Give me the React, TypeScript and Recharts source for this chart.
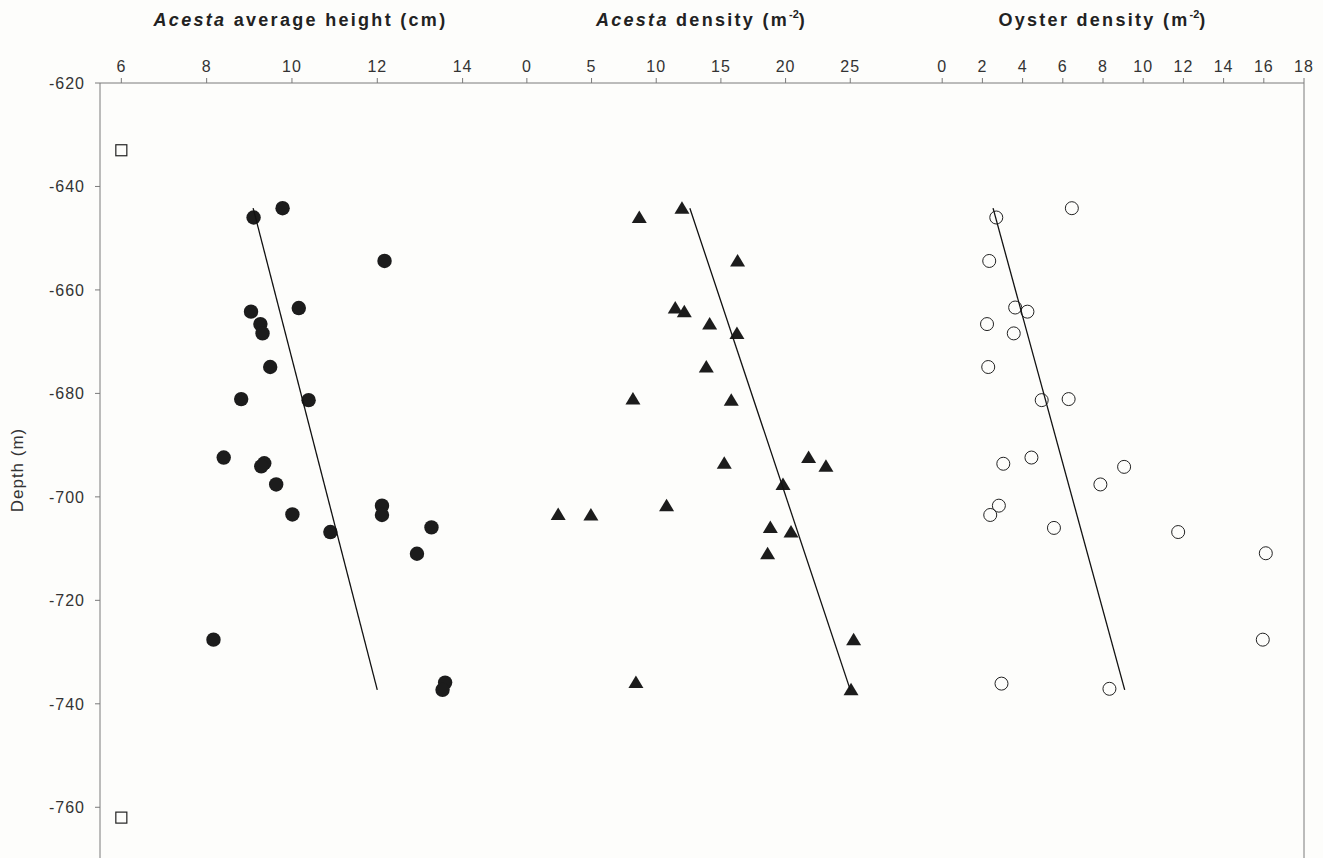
import React from 'react';
import { ScatterChart, Scatter, XAxis, YAxis, ReferenceLine } from 'recharts';

// depth of each sampled station (m)
const depths = [
  -644.2, -646.0, -654.4, -663.5, -664.2, -666.6, -668.4, -674.9, -681.1, -681.3, -692.4, -693.5,
  -694.1, -697.6, -701.7, -703.4, -703.5, -705.9, -706.8, -711.0, -727.6, -735.9, -737.3,
];
const acestaHeight = [
  9.78, 9.1, 12.17, 10.16, 9.04, 9.26, 9.31, 9.49, 8.81, 10.39, 8.4, 9.35,
  9.28, 9.63, 12.11, 10.01, 12.11, 13.27, 10.9, 12.93, 8.16, 13.59, 13.53,
];
const acestaDensity = [
  11.99, 8.69, 16.29, 11.47, 12.17, 14.13, 16.24, 13.87, 8.2, 15.8, 21.78, 15.26,
  23.12, 19.8, 10.8, 2.42, 4.95, 18.82, 20.42, 18.61, 25.26, 8.43, 25.06,
];
const oysterDepths = [
  -644.2, -646.0, -654.4, -663.4, -664.2, -666.6, -668.4, -674.9, -681.3, -681.1, -692.4,
  -693.6, -694.2, -697.6, -701.7, -703.5, -706.0, -706.8, -710.9, -727.6, -736.1, -737.1,
];
const oysterDensity = [
  6.45, 2.69, 2.34, 3.63, 4.24, 2.23, 3.56, 2.29, 4.95, 6.29, 4.44,
  3.04, 9.05, 7.87, 2.82, 2.39, 5.56, 11.74, 16.1, 15.95, 2.95, 8.32,
];

// depth range markers (open squares)
const rangeDepths = [-633, -762];
const rangeX = [6, 6];

// regression line end points
const trendDepths = [-644.2, -737.3];
const heightTrend = [9.09, 12.0];
const acestaTrend = [12.6, 25.0];
const oysterTrend = [2.53, 9.08];

const depthTicks = [-620, -640, -660, -680, -700, -720, -740, -760];
const heightTicks = [6, 8, 10, 12, 14];
const acestaTicks = [0, 5, 10, 15, 20, 25];
const oysterTicks = [0, 2, 4, 6, 8, 10, 12, 14, 16, 18];

const pts = (xs: number[], ys: number[]) => xs.map((x, i) => ({ x, y: ys[i] }));

const AXIS = '#7a7a7a';
const INK = '#1c1c1c';
const FONT = '"Liberation Sans", Arial, sans-serif';
const H = 860;
const TOP = 83;
const BOTTOM = 1;

const dot = (p: any) => <circle cx={p.cx} cy={p.cy} r={7.2} fill={INK} />;
const tri = (p: any) => (
  <polygon
    points={`${p.cx},${p.cy - 7} ${p.cx - 7.5},${p.cy + 5.5} ${p.cx + 7.5},${p.cy + 5.5}`}
    fill={INK}
  />
);
const ring = (p: any) => <circle cx={p.cx} cy={p.cy} r={6.5} fill="none" stroke="#222" strokeWidth={1} />;
const square = (p: any) => (
  <rect x={p.cx - 5.5} y={p.cy - 5.5} width={11} height={11} fill="none" stroke="#222" strokeWidth={1.2} />
);
const none = () => <g />;

const textProps = { fill: '#333', fontSize: 16, fontFamily: FONT, letterSpacing: 1 };

const topTick = (p: any) => (
  <text x={p.x} y={p.y} textAnchor="middle" {...textProps}>
    {p.payload.value}
  </text>
);
const leftTick = (p: any) => (
  <text x={p.x} y={p.y} dy="0.36em" textAnchor="end" {...textProps}>
    {p.payload.value}
  </text>
);

interface PanelProps {
  left: number;
  width: number;
  margin: { top: number; right: number; bottom: number; left: number };
  domain: [number, number];
  ticks: number[];
  points: { x: number; y: number }[];
  trend: { x: number; y: number }[];
  shape: (p: any) => React.ReactElement;
  first?: boolean;
  last?: boolean;
}

const Panel: React.FC<PanelProps> = ({ left, width, margin, domain, ticks, points, trend, shape, first, last }) => (
  <div style={{ position: 'absolute', left, top: 0 }}>
    <ScatterChart width={width} height={H} margin={margin}>
      <XAxis
        type="number"
        dataKey="x"
        orientation="top"
        domain={domain}
        ticks={ticks}
        allowDataOverflow
        stroke={AXIS}
        tick={topTick}
        tickSize={5}
        tickMargin={6}
        height={30}
      />
      <YAxis
        type="number"
        dataKey="y"
        domain={[-770, -620]}
        ticks={depthTicks}
        allowDataOverflow
        stroke={AXIS}
        width={first ? 60 : 0}
        tick={first ? leftTick : none}
        tickSize={first ? 5 : -5}
        tickMargin={first ? 10 : 0}
      />
      {last && <ReferenceLine x={domain[1]} stroke={AXIS} strokeWidth={1} />}
      <Scatter data={points} shape={shape} isAnimationActive={false} />
      <Scatter data={trend} line={{ stroke: '#111', strokeWidth: 1.3 }} shape={none} isAnimationActive={false} />
      {first && <Scatter data={pts(rangeX, rangeDepths)} shape={square} isAnimationActive={false} />}
    </ScatterChart>
  </div>
);

const titleStyle: React.CSSProperties = {
  position: 'absolute',
  top: 10,
  textAlign: 'center',
  fontFamily: FONT,
  fontWeight: 'bold',
  fontSize: 18,
  letterSpacing: 2.3,
  color: '#222',
  whiteSpace: 'nowrap',
};

const sup: React.CSSProperties = { fontSize: 11, verticalAlign: 'top', position: 'relative', top: -2, letterSpacing: 0 };

export default function App() {
  return (
    <div
      style={{
        position: 'absolute',
        left: 0,
        top: 0,
        width: 1323,
        height: 858,
        overflow: 'hidden',
        background: '#fdfdfb',
      }}
    >
      <Panel
        left={0}
        width={501}
        margin={{ top: TOP - 30, right: 0, bottom: BOTTOM, left: 40 }}
        domain={[5.5, 14.9]}
        ticks={heightTicks}
        points={pts(acestaHeight, depths)}
        trend={pts(heightTrend, trendDepths)}
        shape={dot}
        first
      />
      <Panel
        left={501}
        width={401}
        margin={{ top: TOP - 30, right: 0, bottom: BOTTOM, left: 0 }}
        domain={[-2, 29]}
        ticks={acestaTicks}
        points={pts(acestaDensity, depths)}
        trend={pts(acestaTrend, trendDepths)}
        shape={tri}
      />
      <Panel
        left={902}
        width={421}
        margin={{ top: TOP - 30, right: 19, bottom: BOTTOM, left: 0 }}
        domain={[-2, 18]}
        ticks={oysterTicks}
        points={pts(oysterDensity, oysterDepths)}
        trend={pts(oysterTrend, trendDepths)}
        shape={ring}
        last
      />

      <div style={{ ...titleStyle, left: 100, width: 401 }}>
        <i>Acesta</i> average height (cm)
      </div>
      <div style={{ ...titleStyle, left: 501, width: 401 }}>
        <i>Acesta</i> density (m<span style={sup}>-2</span>)
      </div>
      <div style={{ ...titleStyle, left: 902, width: 402 }}>
        Oyster density (m<span style={sup}>-2</span>)
      </div>

      <div
        style={{
          position: 'absolute',
          left: 18,
          top: 470,
          transform: 'translate(-50%, -50%) rotate(-90deg)',
          fontFamily: FONT,
          fontSize: 17,
          letterSpacing: 1,
          color: '#333',
          whiteSpace: 'nowrap',
        }}
      >
        Depth (m)
      </div>
    </div>
  );
}
